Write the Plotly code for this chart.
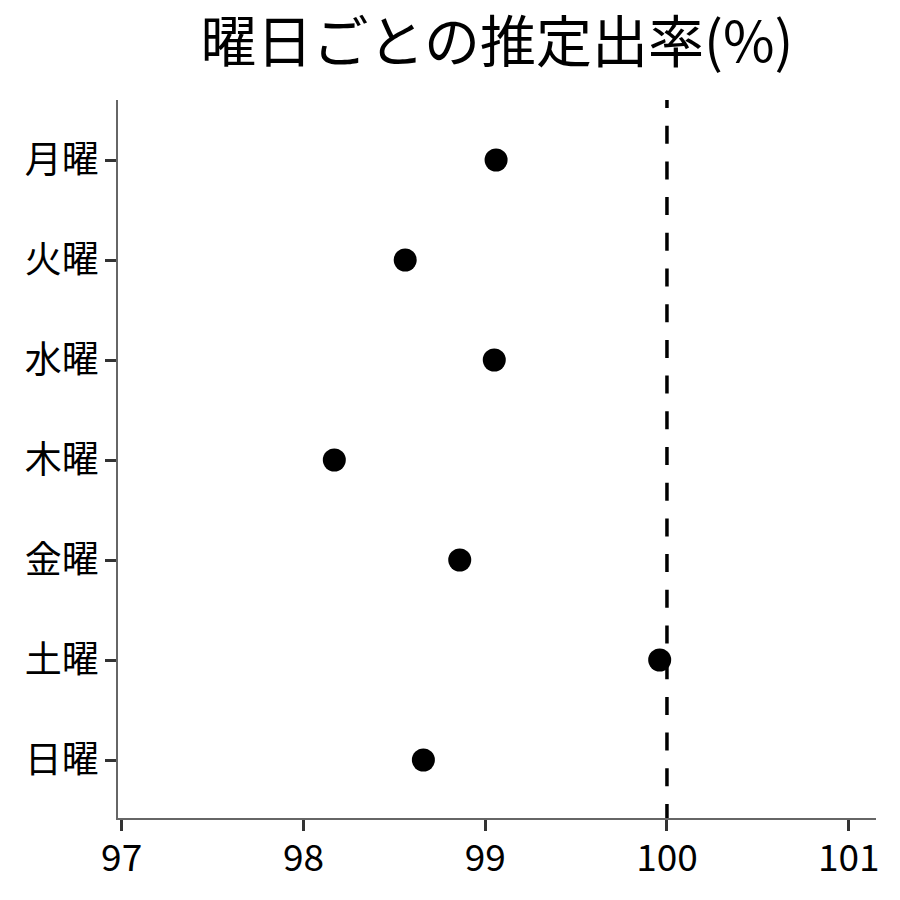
import plotly.graph_objects as go

days = ["月曜", "火曜", "水曜", "木曜", "金曜", "土曜", "日曜"]
rates = [99.06, 98.56, 99.05, 98.17, 98.86, 99.96, 98.66]
x_ticks = [97, 98, 99, 100, 101]
ref_value = 100

font_family = "Noto Sans CJK JP"

fig = go.Figure()

fig.add_trace(
    go.Scatter(
        x=rates,
        y=days,
        mode="markers",
        marker=dict(color="black", size=23),
        showlegend=False,
    )
)

# dashed reference line at 100%
fig.add_shape(
    type="line",
    xref="x",
    yref="y",
    x0=ref_value,
    x1=ref_value,
    y0=-0.7,
    y1=6.58,
    line=dict(color="black", width=3.5, dash="18px,17.7px"),
    layer="below",
)

fig.update_layout(
    width=900,
    height=900,
    paper_bgcolor="white",
    plot_bgcolor="white",
    margin=dict(l=110, r=32, t=92, b=90),
    font=dict(family=font_family, color="black"),
    title=dict(
        text="曜日ごとの推定出率(%)",
        font=dict(size=56, family=font_family, color="black"),
        xref="paper",
        x=0.5,
        xanchor="center",
        yref="container",
        y=0.962,
        yanchor="middle",
    ),
    xaxis=dict(
        range=[96.98, 101.15],
        tickvals=x_ticks,
        ticktext=[str(v) for v in x_ticks],
        showgrid=False,
        zeroline=False,
        showline=True,
        linecolor="#666666",
        linewidth=1.5,
        ticks="outside",
        ticklen=11,
        tickwidth=3,
        tickcolor="#333333",
        ticklabelstandoff=-4,
        tickfont=dict(size=37, family=font_family, color="black"),
    ),
    yaxis=dict(
        type="category",
        categoryorder="array",
        categoryarray=days,
        range=[6.58, -0.6],
        showgrid=False,
        zeroline=False,
        showline=True,
        linecolor="#666666",
        linewidth=1.5,
        ticks="outside",
        ticklen=11,
        tickwidth=3,
        tickcolor="#333333",
        ticklabelstandoff=-1,
        tickfont=dict(size=37, family=font_family, color="black"),
    ),
)

fig.write_html("out.html")
